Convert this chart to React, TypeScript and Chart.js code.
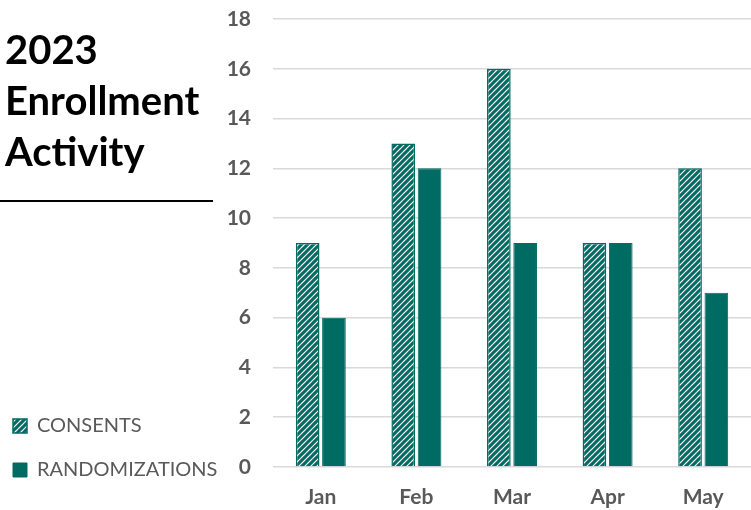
import React, { useEffect, useRef } from "react";
import { Chart, registerables } from "chart.js";

Chart.register(...registerables);

const months = ["Jan", "Feb", "Mar", "Apr", "May"];
const consents = [9, 13, 16, 9, 12];
const randomizations = [6, 12, 9, 9, 7];
const seriesNames = ["CONSENTS", "RANDOMIZATIONS"];
const titleLines = ["2023", "Enrollment", "Activity"];

const TEAL = "#006B63";
const FONT = "Lato, 'Open Sans', sans-serif";
const PAD_LEFT = -11;
const PAD_BOTTOM = 0;
const LEGEND_LIFT = 6;
const AREA_LEFT = 273;
const AREA_BOTTOM = 467;
const HEIGHT = 510;

function makeHatch(ctx: CanvasRenderingContext2D): CanvasPattern | string {
  const c = document.createElement("canvas");
  const s = 6;
  c.width = s;
  c.height = s;
  const p = c.getContext("2d");
  if (!p) return TEAL;
  p.fillStyle = "#ffffff";
  p.fillRect(0, 0, s, s);
  p.strokeStyle = TEAL;
  p.lineWidth = 3.1;
  for (let k = -1; k <= 1; k++) {
    p.beginPath();
    p.moveTo(k * s - 1, s + 1);
    p.lineTo(k * s + s + 1, -1);
    p.stroke();
  }
  return ctx.createPattern(c, "repeat") || TEAL;
}

const liftLegend = {
  id: "liftLegend",
  afterLayout(chart: any) {
    const lg = chart.legend;
    if (lg) {
      lg.top -= LEGEND_LIFT;
      lg.bottom -= LEGEND_LIFT;
    }
  },
};

export default function App() {
  const ref = useRef<HTMLCanvasElement | null>(null);

  useEffect(() => {
    const canvas = ref.current;
    if (!canvas) return;
    const ctx = canvas.getContext("2d");
    if (!ctx) return;
    const hatch = makeHatch(ctx);
    const chart = new Chart(ctx, {
      type: "bar",
      data: {
        labels: months,
        datasets: [
          {
            label: seriesNames[0],
            data: consents,
            backgroundColor: hatch as any,
            borderColor: TEAL,
            borderWidth: 1.5,
            categoryPercentage: 0.55,
            barPercentage: 0.9,
          },
          {
            label: seriesNames[1],
            data: randomizations,
            backgroundColor: TEAL,
            borderColor: TEAL,
            borderWidth: 1,
            categoryPercentage: 0.55,
            barPercentage: 0.9,
          },
        ],
      },
      plugins: [liftLegend],
      options: {
        responsive: false,
        animation: false,
        layout: { padding: { top: 19, right: 0, bottom: PAD_BOTTOM, left: PAD_LEFT } },
        plugins: {
          title: { display: false },
          tooltip: { enabled: false },
          legend: {
            position: "left",
            align: "end",
            maxWidth: 300,
            labels: {
              boxWidth: 14,
              boxHeight: 14,
              padding: 24,
              color: "#595959",
              font: { family: FONT, size: 20 },
            },
          },
        },
        scales: {
          x: {
            grid: { display: false, drawTicks: false },
            border: { display: false },
            afterFit: (scale: any) => {
              scale.height = HEIGHT - PAD_BOTTOM - AREA_BOTTOM;
            },
            ticks: {
              padding: 18,
              color: "#595959",
              font: { family: FONT, size: 21, weight: "bold" },
            },
          },
          y: {
            min: 0,
            max: 18,
            grid: { color: "#d9d9d9", lineWidth: 1.5, drawTicks: false },
            border: { display: false },
            afterFit: (scale: any) => {
              const lg: any = scale.chart.legend;
              const lw = lg && lg.width ? lg.width : 0;
              scale.width = AREA_LEFT - PAD_LEFT - lw;
              scale.paddingTop = 0;
              scale.paddingBottom = 0;
            },
            ticks: {
              stepSize: 2,
              padding: 22,
              color: "#595959",
              font: { family: FONT, size: 21, weight: "bold" },
            },
          },
        },
      },
    });
    return () => chart.destroy();
  }, []);

  return (
    <div style={{ position: "fixed", left: 0, top: 0, width: 751, height: 510, background: "#fff" }}>
      <canvas ref={ref} width={751} height={510} style={{ display: "block" }} />
      <div
        style={{
          position: "absolute",
          left: 5,
          top: 24,
          fontFamily: FONT,
          fontWeight: "bold",
          fontSize: 40,
          lineHeight: "51px",
          color: "#000",
        }}
      >
        {titleLines.map((t) => (
          <div key={t}>{t}</div>
        ))}
      </div>
      <div style={{ position: "absolute", left: 0, top: 200, width: 213, height: 2, background: "#000" }} />
    </div>
  );
}
